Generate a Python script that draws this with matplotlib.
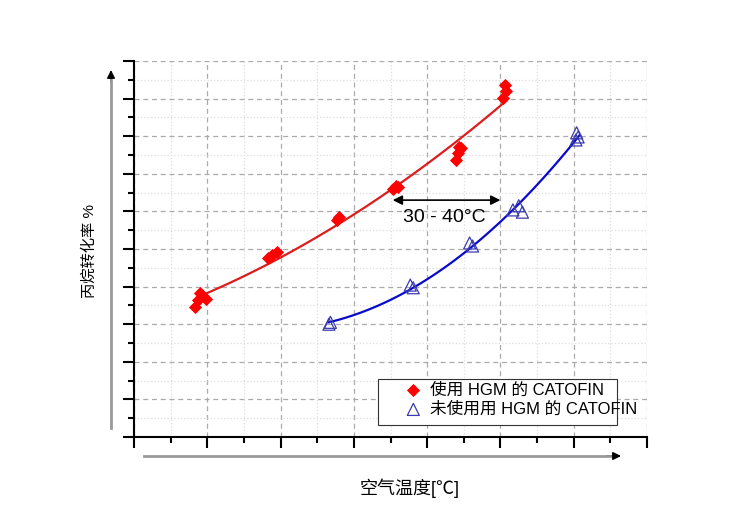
import numpy as np
import matplotlib.pyplot as plt
from matplotlib.lines import Line2D
from matplotlib.patches import Rectangle
from matplotlib.ticker import MultipleLocator

plt.rcParams['font.family'] = ['Liberation Sans', 'Noto Sans CJK SC', 'DejaVu Sans']

# data (arbitrary units; axes carry no numbers)
red_x = [0.83, 0.87, 0.90, 0.98, 1.83, 1.88, 1.95, 2.77, 2.80,
         3.53, 3.57, 3.60, 4.40, 4.42, 4.43, 4.46, 5.04, 5.08, 5.06]
red_y = [3.46, 3.64, 3.83, 3.67, 4.76, 4.84, 4.92, 5.77, 5.85,
         6.60, 6.68, 6.65, 7.37, 7.55, 7.71, 7.68, 9.02, 9.20, 9.36]
blue_x = [2.68, 2.66, 3.77, 3.81, 4.58, 4.62, 5.17, 5.25, 5.30, 6.04, 6.06, 6.03]
blue_y = [3.05, 3.00, 4.04, 3.97, 5.16, 5.08, 6.04, 6.15, 5.98, 8.09, 7.98, 7.90]

label_red = '使用 HGM 的 CATOFIN'
label_blue = '未使用用 HGM 的 CATOFIN'

fig = plt.figure(figsize=(7.52, 5.25), dpi=100)
ax = fig.add_axes([134/752, 1 - 437/525, 513/752, 376/525])

ax.set_xlim(0, 7)
ax.set_ylim(0, 10)
ax.xaxis.set_major_locator(MultipleLocator(1))
ax.xaxis.set_minor_locator(MultipleLocator(0.5))
ax.yaxis.set_major_locator(MultipleLocator(1))
ax.yaxis.set_minor_locator(MultipleLocator(0.5))
ax.tick_params(which='major', direction='out', length=8, width=1.5, labelbottom=False, labelleft=False)
ax.tick_params(which='minor', direction='out', length=4, width=1.5)
for s in ['top', 'right']:
    ax.spines[s].set_visible(False)
for s in ['left', 'bottom']:
    ax.spines[s].set_linewidth(1.5)

ax.grid(True, which='major', color='#aaaaaa', linestyle=(0, (4, 3)), linewidth=0.9)
ax.grid(True, which='minor', color='#dddddd', linestyle=':', linewidth=0.9)
ax.yaxis.get_gridlines()[-1].set_visible(False)
ax.xaxis.get_gridlines()[-1].set_visible(False)
ax.set_axisbelow(True)

# fitted curves
pr = np.polyfit(red_x, red_y, 2)
xr = np.linspace(min(red_x) + 0.05, max(red_x), 100)
ax.plot(xr, np.polyval(pr, xr), color='#dd1c1c', linewidth=1.6, zorder=2)
pb = np.polyfit(blue_x, blue_y, 2)
xb = np.linspace(min(blue_x), max(blue_x) + 0.02, 100)
ax.plot(xb, np.polyval(pb, xb), color='#0a0acc', linewidth=1.6, zorder=2)

ax.scatter(red_x, red_y, marker='D', s=45, color='#ff0000', linewidths=0, zorder=3, label=label_red)
ax.scatter(blue_x, blue_y, marker='^', s=75, facecolors='none', edgecolors='#3a3ab0',
           linewidths=0.9, zorder=3, label=label_blue)

# 30 - 40 °C gap
ax.annotate('', xy=(5.0, 6.3), xytext=(3.53, 6.3),
            arrowprops=dict(arrowstyle='<|-|>', color='black', lw=1.2, mutation_scale=14,
                            shrinkA=0, shrinkB=0))
ax.text(4.24, 5.85, '30 - 40°C', ha='center', va='center', fontsize=14)

# legend box
ax.add_patch(Rectangle((0.4756, 0.0319), 0.4659, 0.1224, transform=ax.transAxes,
                       facecolor='white', edgecolor='#333333', linewidth=0.8, zorder=4))
leg = ax.legend(loc='upper left', bbox_to_anchor=((405 - 134) / 513, (437 - 382) / 376),
                frameon=False, fontsize=12, handlelength=1, handletextpad=0.5,
                borderpad=0, borderaxespad=0, labelspacing=0.25, scatterpoints=1)
leg.set_zorder(5)

# axis labels
ax.set_xlabel('空气温度[℃]', fontsize=13)
ax.xaxis.set_label_coords((410 - 134) / 513, (437 - 478) / 376)
ax.set_ylabel('丙烷转化率 %', fontsize=11)
ax.yaxis.set_label_coords((97 - 134) / 513, (437 - 251) / 376)

# direction arrows outside the axes
fig.add_artist(Line2D([111/752, 111/752], [1 - 428/525, 1 - 80/525], color='#999999', linewidth=2))
ax.annotate('', xy=(111/752, 1 - 70/525), xytext=(111/752, 1 - 82/525),
            xycoords='figure fraction', textcoords='figure fraction',
            arrowprops=dict(arrowstyle='-|>', color='black', lw=1, mutation_scale=12, shrinkA=0, shrinkB=0))
fig.add_artist(Line2D([144/752, 610/752], [1 - 456/525, 1 - 456/525], color='#999999', linewidth=2))
ax.annotate('', xy=(621/752, 1 - 456/525), xytext=(607/752, 1 - 456/525),
            xycoords='figure fraction', textcoords='figure fraction',
            arrowprops=dict(arrowstyle='-|>', color='black', lw=1, mutation_scale=12, shrinkA=0, shrinkB=0))

fig.savefig('out.png', dpi=100)
